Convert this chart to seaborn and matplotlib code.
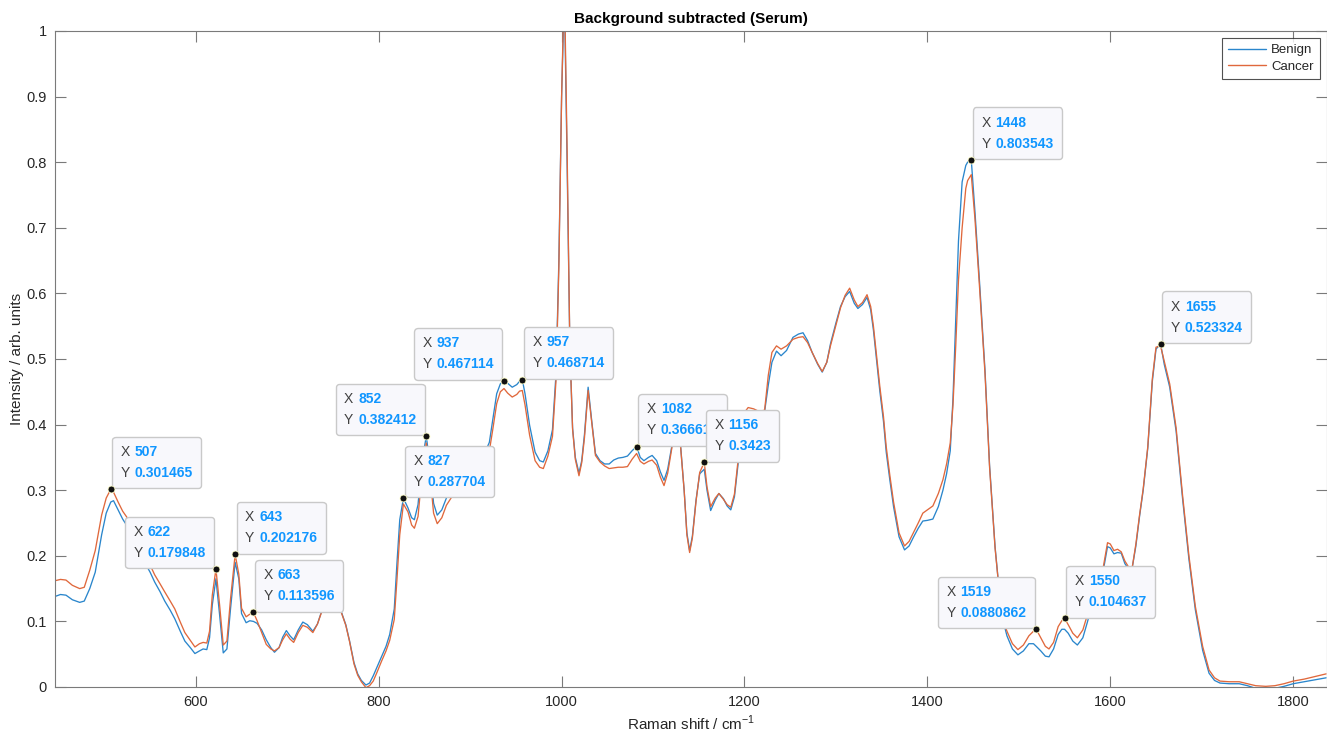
import matplotlib
matplotlib.use("Agg")
import matplotlib.pyplot as plt
from matplotlib.offsetbox import TextArea, HPacker, VPacker, AnnotationBbox
import seaborn as sns
import pandas as pd

# Raman shift axis (cm^-1) and mean background-subtracted spectra
wavenumber = [
    446, 452, 458, 465, 473, 478, 484, 490, 497, 502, 507, 510, 515, 520, 526,
    532, 538, 544, 550, 555, 561, 566, 572, 577, 583, 588, 594, 599, 604, 608,
    612, 615, 618, 622, 626, 630, 634, 638, 643, 647, 650, 655, 659, 663, 667,
    672, 677, 682, 686, 691, 695, 699, 703, 707, 712, 717, 722, 728, 733, 737,
    742, 748, 754, 759, 764, 768, 773, 777, 781, 786, 790, 794, 798, 803, 808,
    812, 817, 820, 823, 827, 832, 836, 839, 843, 847, 852, 856, 860, 864, 869,
    874, 880, 887, 895, 903, 911, 917, 921, 925, 929, 933, 937, 941, 946, 951,
    954, 957, 960, 965, 971, 976, 980, 985, 990, 994, 997, 1000, 1003, 1006, 1009,
    1012, 1015, 1019, 1022, 1025, 1029, 1033, 1037, 1042, 1047, 1052, 1057, 1062, 1067, 1072,
    1077, 1082, 1086, 1090, 1095, 1099, 1104, 1108, 1112, 1116, 1121, 1126, 1130, 1134, 1137,
    1140, 1143, 1147, 1151, 1156, 1159, 1163, 1168, 1172, 1177, 1181, 1185, 1189, 1193, 1198,
    1204, 1210, 1216, 1222, 1226, 1230, 1235, 1240, 1246, 1253, 1259, 1264, 1269, 1274, 1280,
    1285, 1290, 1294, 1300, 1305, 1310, 1315, 1320, 1324, 1329, 1334, 1338, 1341, 1345, 1348,
    1352, 1355, 1359, 1363, 1369, 1375, 1380, 1385, 1390, 1395, 1400, 1406, 1412, 1417, 1421,
    1425, 1428, 1431, 1434, 1438, 1442, 1444, 1448, 1452, 1457, 1463, 1468, 1474, 1479, 1483,
    1487, 1493, 1499, 1505, 1511, 1516, 1519, 1524, 1529, 1533, 1538, 1543, 1547, 1550, 1554,
    1559, 1564, 1570, 1575, 1580, 1586, 1592, 1597, 1600, 1604, 1608, 1612, 1616, 1620, 1624,
    1628, 1632, 1636, 1641, 1646, 1650, 1655, 1659, 1665, 1672, 1679, 1686, 1693, 1701, 1708,
    1714, 1720, 1730, 1741, 1750, 1759, 1770, 1780, 1790, 1800, 1812, 1824, 1836,
]

benign = [
    0.138, 0.141, 0.140, 0.133, 0.129, 0.131, 0.150, 0.175, 0.232, 0.265, 0.282, 0.284, 0.270, 0.256, 0.243,
    0.230, 0.212, 0.190, 0.175, 0.160, 0.145, 0.131, 0.117, 0.104, 0.085, 0.070, 0.060, 0.051, 0.055, 0.058,
    0.057, 0.075, 0.125, 0.165, 0.110, 0.052, 0.058, 0.120, 0.190, 0.165, 0.112, 0.098, 0.101, 0.100, 0.097,
    0.087, 0.072, 0.060, 0.053, 0.060, 0.076, 0.086, 0.078, 0.072, 0.087, 0.099, 0.095, 0.085, 0.096, 0.113,
    0.125, 0.135, 0.130, 0.115, 0.095, 0.071, 0.037, 0.020, 0.010, 0.003, 0.006, 0.017, 0.030, 0.046, 0.062,
    0.080, 0.119, 0.190, 0.255, 0.287704, 0.273, 0.258, 0.255, 0.278, 0.340, 0.382412, 0.340, 0.280, 0.262, 0.270,
    0.288, 0.300, 0.310, 0.318, 0.330, 0.345, 0.360, 0.373, 0.410, 0.447, 0.462, 0.467114, 0.463, 0.457, 0.461,
    0.466, 0.468714, 0.447, 0.399, 0.358, 0.345, 0.343, 0.360, 0.392, 0.480, 0.650, 0.900, 1.060, 0.800, 0.520,
    0.395, 0.350, 0.326, 0.345, 0.385, 0.457, 0.405, 0.356, 0.345, 0.340, 0.340, 0.346, 0.349, 0.350, 0.352,
    0.360, 0.366611, 0.350, 0.345, 0.350, 0.353, 0.345, 0.328, 0.315, 0.332, 0.371, 0.395, 0.370, 0.300, 0.235,
    0.208, 0.230, 0.285, 0.325, 0.332, 0.300, 0.269, 0.285, 0.295, 0.287, 0.276, 0.270, 0.290, 0.340, 0.395,
    0.418, 0.420, 0.418, 0.420, 0.460, 0.495, 0.512, 0.505, 0.513, 0.533, 0.538, 0.540, 0.528, 0.510, 0.492,
    0.480, 0.495, 0.523, 0.555, 0.580, 0.595, 0.603, 0.585, 0.577, 0.583, 0.594, 0.575, 0.544, 0.490, 0.451,
    0.405, 0.358, 0.315, 0.275, 0.229, 0.209, 0.215, 0.229, 0.242, 0.253, 0.254, 0.256, 0.275, 0.300, 0.325,
    0.360, 0.440, 0.560, 0.680, 0.770, 0.795, 0.800, 0.803543, 0.725, 0.618, 0.483, 0.338, 0.214, 0.140, 0.100,
    0.078, 0.058, 0.049, 0.055, 0.066, 0.066, 0.062, 0.055, 0.047, 0.046, 0.058, 0.080, 0.088, 0.088, 0.082,
    0.070, 0.064, 0.075, 0.099, 0.125, 0.150, 0.175, 0.214, 0.212, 0.203, 0.205, 0.204, 0.188, 0.180, 0.182,
    0.215, 0.260, 0.300, 0.364, 0.466, 0.515, 0.523324, 0.492, 0.457, 0.390, 0.288, 0.195, 0.118, 0.056, 0.021,
    0.010, 0.006, 0.005, 0.005, 0.002, -0.002, -0.003, -0.002, 0.001, 0.005, 0.008, 0.011, 0.014,
]

cancer = [
    0.162, 0.164, 0.163, 0.155, 0.150, 0.152, 0.178, 0.208, 0.262, 0.288, 0.301465, 0.297, 0.282, 0.268, 0.256,
    0.242, 0.224, 0.202, 0.186, 0.171, 0.157, 0.145, 0.131, 0.119, 0.099, 0.083, 0.071, 0.061, 0.066, 0.068,
    0.067, 0.085, 0.140, 0.179848, 0.125, 0.064, 0.070, 0.135, 0.202176, 0.172, 0.120, 0.107, 0.111, 0.113596, 0.101,
    0.083, 0.065, 0.058, 0.055, 0.060, 0.072, 0.081, 0.073, 0.068, 0.083, 0.094, 0.091, 0.083, 0.096, 0.112,
    0.125, 0.135, 0.130, 0.114, 0.094, 0.070, 0.035, 0.018, 0.008, -0.001, 0.002, 0.009, 0.022, 0.039, 0.055,
    0.071, 0.103, 0.165, 0.232, 0.279, 0.267, 0.247, 0.242, 0.260, 0.320, 0.372, 0.325, 0.265, 0.249, 0.258,
    0.277, 0.290, 0.300, 0.310, 0.320, 0.334, 0.345, 0.360, 0.395, 0.432, 0.450, 0.455, 0.448, 0.442, 0.446,
    0.451, 0.452, 0.430, 0.384, 0.345, 0.335, 0.333, 0.352, 0.382, 0.470, 0.640, 0.900, 1.080, 0.820, 0.520,
    0.393, 0.347, 0.322, 0.342, 0.380, 0.452, 0.402, 0.353, 0.343, 0.337, 0.333, 0.334, 0.335, 0.335, 0.336,
    0.347, 0.356, 0.344, 0.340, 0.344, 0.346, 0.338, 0.320, 0.307, 0.326, 0.368, 0.395, 0.368, 0.300, 0.232,
    0.205, 0.227, 0.283, 0.327, 0.3423, 0.305, 0.275, 0.288, 0.295, 0.286, 0.278, 0.274, 0.294, 0.346, 0.415,
    0.426, 0.424, 0.420, 0.422, 0.475, 0.510, 0.520, 0.515, 0.520, 0.530, 0.533, 0.534, 0.525, 0.510, 0.493,
    0.481, 0.495, 0.520, 0.552, 0.578, 0.597, 0.608, 0.590, 0.580, 0.586, 0.598, 0.580, 0.550, 0.497, 0.458,
    0.412, 0.366, 0.322, 0.282, 0.235, 0.215, 0.222, 0.236, 0.250, 0.265, 0.270, 0.276, 0.295, 0.316, 0.340,
    0.372, 0.430, 0.520, 0.620, 0.700, 0.760, 0.772, 0.781, 0.714, 0.610, 0.478, 0.335, 0.212, 0.140, 0.102,
    0.085, 0.066, 0.057, 0.064, 0.078, 0.085, 0.0880862, 0.075, 0.062, 0.058, 0.068, 0.092, 0.101, 0.104637, 0.095,
    0.082, 0.075, 0.087, 0.110, 0.135, 0.158, 0.180, 0.220, 0.218, 0.208, 0.210, 0.206, 0.192, 0.183, 0.182,
    0.218, 0.262, 0.302, 0.366, 0.470, 0.518, 0.520, 0.497, 0.462, 0.395, 0.293, 0.200, 0.123, 0.062, 0.026,
    0.014, 0.009, 0.008, 0.008, 0.005, 0.002, 0.001, 0.002, 0.005, 0.009, 0.012, 0.016, 0.020,
]

# Data tips: position, value and which side of the point the tip sits on
tip_x = [507, 622, 643, 663, 827, 852, 937, 957, 1082, 1156, 1448, 1519, 1550, 1655]
tip_y = [0.301465, 0.179848, 0.202176, 0.113596, 0.287704, 0.382412, 0.467114,
         0.468714, 0.366611, 0.3423, 0.803543, 0.0880862, 0.104637, 0.523324]
tip_side = ["right", "left", "right", "right", "right", "left", "left",
            "right", "right", "right", "right", "left", "right", "right"]

series_names = ["Benign", "Cancer"]
series_colors = ["#2a86cc", "#e0683c"]

df = pd.concat([
    pd.DataFrame({"shift": wavenumber, "intensity": benign, "group": series_names[0]}),
    pd.DataFrame({"shift": wavenumber, "intensity": cancer, "group": series_names[1]}),
])

sns.set_theme(style="white")
plt.rcParams["font.family"] = ["Liberation Sans", "DejaVu Sans"]
plt.rcParams["mathtext.fontset"] = "custom"
plt.rcParams["mathtext.rm"] = "Liberation Sans"

fig = plt.figure(figsize=(13.27, 7.36), dpi=100)
ax = fig.add_axes([55 / 1327, 49 / 736, 1272 / 1327, 656 / 736])

sns.lineplot(data=df, x="shift", y="intensity", hue="group",
             palette=dict(zip(series_names, series_colors)),
             estimator=None, sort=False, linewidth=0.95, ax=ax)

ax.set_xlim(446, 1837)
ax.set_ylim(0, 1)
ax.set_xticks([600, 800, 1000, 1200, 1400, 1600, 1800])
ax.set_yticks([i / 10 for i in range(11)])
ax.set_yticklabels(["0"] + [f"{i / 10:g}" for i in range(1, 10)] + ["1"])

axis_gray = "#262626"
for sp in ax.spines.values():
    sp.set_visible(True)
    sp.set_color("#7a7a7a")
    sp.set_linewidth(0.8)
ax.tick_params(axis="both", which="major", direction="in", length=8, width=0.8,
               color="#7a7a7a", labelsize=10.5, labelcolor=axis_gray,
               top=True, right=True, bottom=True, left=True, pad=6)

ax.set_title("Background subtracted (Serum)", fontsize=11, fontweight="bold",
             color="black", pad=6)
ax.set_xlabel(r"Raman shift / cm$^{-1}$", fontsize=11, color=axis_gray, labelpad=3)
ax.set_ylabel("Intensity / arb. units", fontsize=11, color=axis_gray, labelpad=2)

leg = ax.legend(loc="upper right", fontsize=9.5, frameon=True, fancybox=False,
                handlelength=2.9, handletextpad=0.4, borderpad=0.45,
                labelspacing=0.3, borderaxespad=0.55)
leg.set_title(None)
leg.get_frame().set_edgecolor("#262626")
leg.get_frame().set_linewidth(0.8)
for line in leg.get_lines():
    line.set_linewidth(1.0)

# Data tip boxes with black markers
label_gray = "#404040"
value_blue = "#1096ff"
box_pad = 0.6          # box padding, in units of the 10 pt mutation scale
pad_pt = box_pad * 10
for i, (tx, ty, side) in enumerate(zip(tip_x, tip_y, tip_side)):
    key_props = dict(color=label_gray, fontsize=10, family="Liberation Sans")
    val_props = dict(color=value_blue, fontsize=10, fontweight="bold",
                     family="Liberation Sans")
    row_x = HPacker(children=[TextArea("X", textprops=key_props),
                              TextArea(f"{tx:g}", textprops=val_props)],
                    sep=3.5, pad=0, align="baseline")
    row_y = HPacker(children=[TextArea("Y", textprops=key_props),
                              TextArea(f"{ty:g}", textprops=val_props)],
                    sep=3.5, pad=0, align="baseline")
    body = VPacker(children=[row_x, row_y], sep=5, pad=0, align="left")
    if side == "right":
        offset, align = (pad_pt + 1.2, pad_pt + 0.6), (0, 0)
    else:
        offset, align = (-(pad_pt + 1.2), pad_pt + 0.6), (1, 0)
    ab = AnnotationBbox(body, (tx, ty), xybox=offset, xycoords="data",
                        boxcoords="offset points", box_alignment=align,
                        fontsize=10, pad=box_pad,
                        bboxprops=dict(boxstyle=f"round,pad={box_pad},rounding_size=0.25",
                                       facecolor="#f8f8fc", edgecolor="#c9c9c9",
                                       linewidth=1.0))
    ab.set_zorder(10 + i)
    ax.add_artist(ab)
    ax.plot([tx], [ty], marker="o", markersize=5, markerfacecolor="#111111",
            markeredgecolor="#ffffcc", markeredgewidth=0.6, linestyle="none",
            zorder=30)

fig.savefig("out.png", dpi=100, facecolor="white")
